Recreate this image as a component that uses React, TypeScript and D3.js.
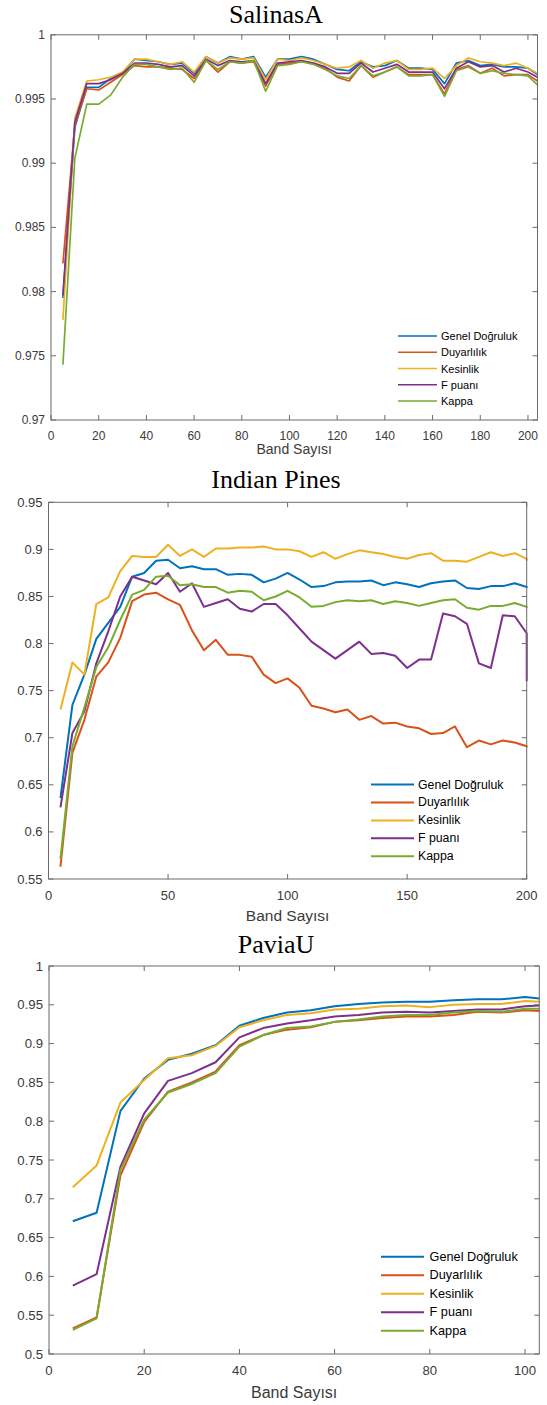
import React from 'react';
import * as d3 from 'd3';

const SERIES_NAMES = ['Genel Doğruluk', 'Duyarlılık', 'Kesinlik', 'F puanı', 'Kappa'];
const COLORS = ['#0072BD', '#D95319', '#EDB120', '#7E2F8E', '#77AC30'];

// ---------- SalinasA ----------
const SA_BANDS = [5, 10, 15, 20, 25, 30, 35, 40, 45, 50, 55, 60, 65, 70, 75, 80, 85, 90, 95, 100, 105, 110, 115, 120, 125, 130, 135, 140, 145, 150, 155, 160, 165, 170, 175, 180, 185, 190, 195, 200, 204];
const SA_GENEL = [0.9795, 0.9928, 0.9959, 0.9959, 0.9966, 0.9970, 0.9981, 0.9980, 0.9979, 0.9977, 0.9978, 0.9970, 0.9983, 0.9978, 0.9983, 0.9981, 0.9983, 0.9967, 0.9981, 0.9981, 0.9983, 0.9981, 0.9977, 0.9973, 0.9972, 0.9979, 0.9975, 0.9976, 0.9980, 0.9974, 0.9974, 0.9973, 0.9962, 0.9978, 0.9980, 0.9976, 0.9977, 0.9975, 0.9975, 0.9974, 0.9969];
const SA_DUYAR = [0.9822, 0.9930, 0.9958, 0.9957, 0.9963, 0.9969, 0.9976, 0.9975, 0.9975, 0.9974, 0.9973, 0.9966, 0.9980, 0.9971, 0.9979, 0.9978, 0.9979, 0.9960, 0.9977, 0.9978, 0.9979, 0.9978, 0.9974, 0.9967, 0.9964, 0.9976, 0.9967, 0.9971, 0.9975, 0.9969, 0.9969, 0.9969, 0.9954, 0.9973, 0.9976, 0.9970, 0.9974, 0.9968, 0.9969, 0.9969, 0.9964];
const SA_KESIN = [0.9778, 0.9935, 0.9964, 0.9965, 0.9967, 0.9971, 0.9981, 0.9981, 0.9979, 0.9977, 0.9979, 0.9971, 0.9983, 0.9978, 0.9982, 0.9981, 0.9982, 0.9965, 0.9981, 0.9980, 0.9982, 0.9980, 0.9977, 0.9974, 0.9975, 0.9980, 0.9974, 0.9978, 0.9980, 0.9973, 0.9973, 0.9974, 0.9966, 0.9976, 0.9982, 0.9979, 0.9978, 0.9976, 0.9978, 0.9974, 0.9970];
const SA_FPUAN = [0.9797, 0.9932, 0.9962, 0.9962, 0.9965, 0.9970, 0.9978, 0.9978, 0.9977, 0.9975, 0.9976, 0.9968, 0.9981, 0.9976, 0.9980, 0.9979, 0.9980, 0.9962, 0.9978, 0.9979, 0.9980, 0.9978, 0.9975, 0.9970, 0.9970, 0.9978, 0.9971, 0.9974, 0.9977, 0.9971, 0.9971, 0.9971, 0.9958, 0.9974, 0.9979, 0.9975, 0.9976, 0.9971, 0.9974, 0.9971, 0.9967];
const SA_KAPPA = [0.9743, 0.9904, 0.9946, 0.9946, 0.9953, 0.9967, 0.9977, 0.9977, 0.9975, 0.9973, 0.9974, 0.9963, 0.9980, 0.9973, 0.9979, 0.9978, 0.9980, 0.9956, 0.9976, 0.9977, 0.9979, 0.9977, 0.9973, 0.9968, 0.9966, 0.9976, 0.9968, 0.9971, 0.9975, 0.9968, 0.9968, 0.9969, 0.9952, 0.9972, 0.9975, 0.9970, 0.9972, 0.9970, 0.9969, 0.9968, 0.9961];
const SA_XTICKS = [0, 20, 40, 60, 80, 100, 120, 140, 160, 180, 200];
const SA_YTICKS = [0.97, 0.975, 0.98, 0.985, 0.99, 0.995, 1];

// ---------- Indian Pines ----------
const IP_BANDS = [5, 10, 15, 20, 25, 30, 35, 40, 45, 50, 55, 60, 65, 70, 75, 80, 85, 90, 95, 100, 105, 110, 115, 120, 125, 130, 135, 140, 145, 150, 155, 160, 165, 170, 175, 180, 185, 190, 195, 200, 200];
const IP_GENEL = [0.636, 0.735, 0.767, 0.805, 0.822, 0.839, 0.871, 0.875, 0.888, 0.889, 0.880, 0.882, 0.879, 0.879, 0.873, 0.874, 0.873, 0.865, 0.869, 0.875, 0.868, 0.860, 0.861, 0.865, 0.866, 0.866, 0.867, 0.862, 0.865, 0.863, 0.860, 0.864, 0.866, 0.867, 0.859, 0.858, 0.861, 0.861, 0.864, 0.860, 0.859];
const IP_DUYAR = [0.563, 0.684, 0.719, 0.765, 0.780, 0.806, 0.845, 0.852, 0.854, 0.847, 0.841, 0.814, 0.793, 0.804, 0.788, 0.788, 0.786, 0.767, 0.758, 0.763, 0.753, 0.734, 0.731, 0.727, 0.730, 0.719, 0.723, 0.715, 0.716, 0.712, 0.710, 0.704, 0.705, 0.712, 0.690, 0.697, 0.693, 0.697, 0.695, 0.691, 0.690];
const IP_KESIN = [0.730, 0.780, 0.767, 0.842, 0.849, 0.877, 0.893, 0.892, 0.892, 0.905, 0.893, 0.900, 0.892, 0.901, 0.901, 0.902, 0.902, 0.903, 0.900, 0.900, 0.898, 0.892, 0.897, 0.890, 0.895, 0.899, 0.897, 0.895, 0.892, 0.890, 0.894, 0.896, 0.888, 0.888, 0.887, 0.892, 0.897, 0.893, 0.896, 0.890, 0.888];
const IP_FPUAN = [0.626, 0.705, 0.728, 0.779, 0.813, 0.850, 0.871, 0.867, 0.863, 0.875, 0.855, 0.864, 0.839, 0.843, 0.847, 0.837, 0.834, 0.842, 0.842, 0.830, 0.816, 0.802, 0.793, 0.784, 0.793, 0.802, 0.789, 0.790, 0.787, 0.774, 0.783, 0.783, 0.832, 0.829, 0.821, 0.779, 0.774, 0.830, 0.829, 0.811, 0.760];
const IP_KAPPA = [0.571, 0.691, 0.732, 0.775, 0.796, 0.825, 0.852, 0.857, 0.871, 0.872, 0.862, 0.863, 0.860, 0.860, 0.854, 0.856, 0.855, 0.846, 0.850, 0.856, 0.849, 0.839, 0.840, 0.844, 0.846, 0.845, 0.846, 0.842, 0.845, 0.843, 0.840, 0.843, 0.846, 0.847, 0.838, 0.836, 0.840, 0.840, 0.843, 0.839, 0.838];
const IP_XTICKS = [0, 50, 100, 150, 200];
const IP_YTICKS = [0.55, 0.6, 0.65, 0.7, 0.75, 0.8, 0.85, 0.9, 0.95];

// ---------- PaviaU ----------
const PU_BANDS = [5, 10, 15, 20, 25, 30, 35, 40, 45, 50, 55, 60, 65, 70, 75, 80, 85, 90, 95, 100, 103];
const PU_GENEL = [0.671, 0.682, 0.813, 0.855, 0.879, 0.887, 0.898, 0.923, 0.933, 0.940, 0.943, 0.948, 0.951, 0.953, 0.954, 0.954, 0.956, 0.957, 0.957, 0.960, 0.958];
const PU_DUYAR = [0.533, 0.547, 0.730, 0.799, 0.838, 0.850, 0.864, 0.898, 0.911, 0.918, 0.921, 0.928, 0.930, 0.933, 0.935, 0.935, 0.937, 0.941, 0.940, 0.943, 0.942];
const PU_KESIN = [0.715, 0.743, 0.824, 0.853, 0.881, 0.885, 0.897, 0.921, 0.930, 0.937, 0.939, 0.944, 0.945, 0.948, 0.949, 0.947, 0.950, 0.951, 0.951, 0.955, 0.954];
const PU_FPUAN = [0.588, 0.603, 0.741, 0.810, 0.852, 0.862, 0.876, 0.908, 0.920, 0.926, 0.930, 0.935, 0.937, 0.940, 0.941, 0.940, 0.942, 0.944, 0.944, 0.948, 0.949];
const PU_KAPPA = [0.531, 0.546, 0.737, 0.802, 0.837, 0.848, 0.862, 0.896, 0.911, 0.920, 0.922, 0.928, 0.931, 0.935, 0.937, 0.937, 0.940, 0.942, 0.941, 0.945, 0.945];
const PU_XTICKS = [0, 20, 40, 60, 80, 100];
const PU_YTICKS = [0.5, 0.55, 0.6, 0.65, 0.7, 0.75, 0.8, 0.85, 0.9, 0.95, 1];

const X_LABEL = 'Band Sayısı';

type PanelCfg = {
  title: string;
  bands: number[];
  series: number[][];
  xDomain: [number, number];
  yDomain: [number, number];
  xTicks: number[];
  yTicks: number[];
  box: { left: number; right: number; top: number; bottom: number };
  titleY: number;
  tickFont: number;
  labelFont: number;
  labelY: number;
  legendFont: number;
  legend: { x0: number; x1: number; tx: number; y0: number; dy: number };
  lineWidth: number;
};

const SANS = "'Liberation Sans', Arial, Helvetica, sans-serif";
const SERIF = "'Liberation Serif', 'Times New Roman', serif";
const AXIS_COLOR = '#6b6b6b';
const TEXT_COLOR = '#3a3a3a';

const fmt = (v: number) => String(Math.round(v * 1000) / 1000);

function Panel({ cfg }: { cfg: PanelCfg }) {
  const { box } = cfg;
  const x = d3.scaleLinear().domain(cfg.xDomain).range([box.left, box.right]);
  const y = d3.scaleLinear().domain(cfg.yDomain).range([box.bottom, box.top]);
  const tickLen = 5;
  const titleX = 276;
  return (
    <g>
      <text x={titleX} y={cfg.titleY} textAnchor="middle" fontFamily={SERIF} fontSize={26} fill="#000">
        {cfg.title}
      </text>
      {cfg.series.map((vals, i) => {
        const line = d3
          .line<number>()
          .x((_, k) => x(cfg.bands[k]))
          .y((d) => y(d));
        return (
          <path key={i} d={line(vals) || ''} fill="none" stroke={COLORS[i]} strokeWidth={cfg.lineWidth} strokeLinejoin="round" />
        );
      })}
      <rect x={box.left} y={box.top} width={box.right - box.left} height={box.bottom - box.top} fill="none" stroke={AXIS_COLOR} strokeWidth={1} />
      {cfg.xTicks.map((t) => (
        <g key={'x' + t}>
          <line x1={x(t)} x2={x(t)} y1={box.bottom} y2={box.bottom - tickLen} stroke={AXIS_COLOR} />
          <line x1={x(t)} x2={x(t)} y1={box.top} y2={box.top + tickLen} stroke={AXIS_COLOR} />
          <text x={x(t)} y={box.bottom + 16} textAnchor="middle" dominantBaseline="central" fontFamily={SANS} fontSize={cfg.tickFont} fill={TEXT_COLOR}>
            {fmt(t)}
          </text>
        </g>
      ))}
      {cfg.yTicks.map((t) => (
        <g key={'y' + t}>
          <line x1={box.left} x2={box.left + tickLen} y1={y(t)} y2={y(t)} stroke={AXIS_COLOR} />
          <line x1={box.right} x2={box.right - tickLen} y1={y(t)} y2={y(t)} stroke={AXIS_COLOR} />
          <text x={box.left - 6} y={y(t)} textAnchor="end" dominantBaseline="central" fontFamily={SANS} fontSize={cfg.tickFont} fill={TEXT_COLOR}>
            {fmt(t)}
          </text>
        </g>
      ))}
      <text x={(box.left + box.right) / 2} y={cfg.labelY} textAnchor="middle" dominantBaseline="central" fontFamily={SANS} fontSize={cfg.labelFont} fill={TEXT_COLOR}>
        {X_LABEL}
      </text>
      {SERIES_NAMES.map((name, i) => {
        const ly = cfg.legend.y0 + i * cfg.legend.dy;
        return (
          <g key={name}>
            <line x1={cfg.legend.x0} x2={cfg.legend.x1} y1={ly} y2={ly} stroke={COLORS[i]} strokeWidth={cfg.lineWidth} />
            <text x={cfg.legend.tx} y={ly} dominantBaseline="central" fontFamily={SANS} fontSize={cfg.legendFont} fill="#000">
              {name}
            </text>
          </g>
        );
      })}
    </g>
  );
}

const PANELS: PanelCfg[] = [
  {
    title: 'SalinasA',
    bands: SA_BANDS,
    series: [SA_GENEL, SA_DUYAR, SA_KESIN, SA_FPUAN, SA_KAPPA],
    xDomain: [0, 204],
    yDomain: [0.97, 1],
    xTicks: SA_XTICKS,
    yTicks: SA_YTICKS,
    box: { left: 51, right: 537.5, top: 34.8, bottom: 420 },
    titleY: 22.7,
    tickFont: 12,
    labelFont: 14,
    labelY: 449,
    legendFont: 11,
    legend: { x0: 398, x1: 437, tx: 441, y0: 336, dy: 16.25 },
    lineWidth: 1.7,
  },
  {
    title: 'Indian Pines',
    bands: IP_BANDS,
    series: [IP_GENEL, IP_DUYAR, IP_KESIN, IP_FPUAN, IP_KAPPA],
    xDomain: [0, 200],
    yDomain: [0.55, 0.95],
    xTicks: IP_XTICKS,
    yTicks: IP_YTICKS,
    box: { left: 48.5, right: 526.7, top: 502.3, bottom: 879 },
    titleY: 488.3,
    tickFont: 13,
    labelFont: 15.5,
    labelY: 915.5,
    legendFont: 12.3,
    legend: { x0: 371, x1: 414, tx: 418, y0: 784.5, dy: 17.95 },
    lineWidth: 2,
  },
  {
    title: 'PaviaU',
    bands: PU_BANDS,
    series: [PU_GENEL, PU_DUYAR, PU_KESIN, PU_FPUAN, PU_KAPPA],
    xDomain: [0, 103],
    yDomain: [0.5, 1],
    xTicks: PU_XTICKS,
    yTicks: PU_YTICKS,
    box: { left: 49, right: 539.3, top: 966, bottom: 1354 },
    titleY: 952.5,
    tickFont: 13.2,
    labelFont: 16,
    labelY: 1392,
    legendFont: 12.7,
    legend: { x0: 381, x1: 424, tx: 429.6, y0: 1256.7, dy: 18.5 },
    lineWidth: 2,
  },
];

export default function App() {
  return (
    <svg width={547} height={1405} style={{ position: 'absolute', left: 0, top: 0, background: '#fff' }}>
      <rect x={0} y={0} width={547} height={1405} fill="#fff" />
      {PANELS.map((p) => (
        <Panel key={p.title} cfg={p} />
      ))}
    </svg>
  );
}
